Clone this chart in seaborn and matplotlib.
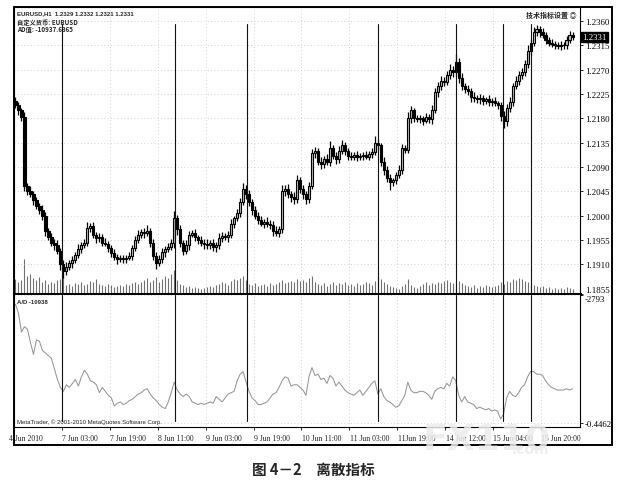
import matplotlib
matplotlib.use('Agg')
import matplotlib.pyplot as plt
import matplotlib.transforms as mtransforms
import numpy as np
import pandas as pd
import seaborn as sns
from matplotlib import patches

# EURUSD H1 closes, pips above 1.1800
close_pips = [
    405, 395, 382, 255, 246, 240, 228, 218, 210, 200,
    172, 160, 150, 145, 135, 110, 98, 105, 112, 118,
    128, 138, 145, 150, 178, 180, 165, 158, 160, 150,
    148, 140, 130, 124, 120, 121, 119, 122, 125, 140,
    155, 165, 170, 168, 172, 150, 125, 112, 120, 132,
    138, 142, 150, 195, 175, 150, 135, 145, 165, 168,
    160, 155, 150, 148, 145, 150, 142, 145, 158, 162,
    160, 165, 185, 195, 205, 225, 250, 240, 225, 210,
    200, 192, 185, 188, 185, 183, 172, 168, 175, 245,
    250, 240, 235, 230, 265, 250, 240, 230, 255, 315,
    320, 300, 295, 305, 300, 325, 310, 305, 320, 330,
    320, 310, 308, 312, 308, 310, 312, 309, 314, 318,
    335, 330, 300, 285, 270, 262, 265, 275, 285, 325,
    322, 380, 395, 380, 378, 380, 376, 382, 378, 395,
    428, 440, 450, 448, 460, 470, 465, 485, 455, 440,
    435, 430, 420, 418, 415, 418, 412, 415, 410, 412,
    408, 405, 385, 375, 400, 410, 440, 450, 460, 465,
    480, 505, 520, 540, 545, 540, 535, 525, 520, 518,
    515, 514, 516, 515, 525, 535, 531,
]
first_open = 412

# wick lengths above / below the body, pips
wick_hi = [
    8, 6, 5, 10, 6, 8, 5, 7, 6, 9,
    7, 5, 8, 6, 9, 5, 7, 10, 6, 8,
    5, 9, 6, 7, 11, 6, 8, 5, 7, 6,
    9, 5, 6, 8, 5, 7, 6, 5, 8, 6,
    7, 9, 6, 8, 10, 5, 6, 8, 7, 9,
    6, 8, 7, 13, 6, 8, 5, 9, 7, 6,
    8, 5, 7, 6, 9, 5, 7, 6, 10, 8,
    6, 7, 9, 5, 8, 7, 10, 6, 8, 5,
    7, 6, 8, 5, 9, 6, 7, 8, 6, 11,
    7, 9, 6, 8, 10, 6, 7, 5, 8, 9,
    7, 5, 8, 6, 9, 14, 6, 7, 8, 10,
    6, 5, 7, 6, 8, 5, 6, 7, 5, 8,
    12, 6, 5, 8, 6, 7, 5, 6, 8, 7,
    6, 12, 8, 5, 6, 7, 5, 8, 6, 9,
    8, 7, 9, 6, 8, 10, 7, 14, 6, 8,
    5, 7, 6, 8, 5, 7, 6, 5, 8, 6,
    7, 5, 6, 8, 7, 9, 6, 8, 7, 9,
    8, 10, 7, 9, 8, 6, 7, 5, 6, 7,
    5, 6, 7, 5, 8, 6, 5,
]
wick_lo = [
    6, 8, 7, 10, 8, 6, 9, 5, 7, 8,
    9, 6, 7, 8, 6, 10, 14, 7, 5, 8,
    6, 7, 8, 5, 6, 9, 7, 8, 6, 7,
    5, 8, 6, 7, 9, 5, 6, 7, 5, 8,
    6, 5, 7, 9, 6, 8, 7, 10, 6, 7,
    8, 5, 6, 9, 10, 8, 7, 6, 9, 5,
    7, 8, 6, 9, 7, 6, 8, 10, 6, 7,
    5, 8, 6, 7, 5, 8, 6, 9, 7, 8,
    6, 7, 5, 8, 6, 7, 9, 6, 8, 7,
    9, 8, 10, 8, 6, 9, 10, 8, 7, 6,
    8, 7, 9, 6, 7, 8, 6, 9, 7, 6,
    7, 8, 6, 5, 7, 6, 8, 5, 6, 7,
    6, 8, 9, 10, 8, 14, 7, 6, 5, 8,
    7, 6, 8, 7, 5, 6, 8, 5, 7, 9,
    6, 8, 7, 9, 6, 7, 8, 6, 9, 7,
    8, 6, 9, 7, 6, 8, 7, 6, 8, 7,
    6, 8, 9, 12, 10, 8, 7, 6, 8, 7,
    6, 7, 8, 6, 7, 9, 6, 8, 7, 6,
    7, 6, 8, 6, 7, 5, 6,
]

# tick volume (roughly the drawn height in pixels)
tick_volume = [
    15, 12, 14, 35, 18, 20, 16, 14, 17, 12,
    14, 10, 12, 11, 14, 15, 22, 9, 10, 8,
    11, 10, 12, 9, 10, 13, 12, 15, 10, 9,
    8, 10, 9, 7, 8, 9, 8, 10, 9, 11,
    12, 10, 12, 14, 16, 12, 14, 17, 12, 15,
    18, 16, 20, 24, 14, 10, 9, 7, 8, 6,
    7, 6, 5, 6, 7, 8, 7, 9, 10, 12,
    11, 9, 13, 15, 14, 16, 18, 14, 10, 9,
    11, 8, 9, 10, 8, 11, 9, 10, 12, 14,
    11, 12, 13, 12, 15, 13, 14, 12, 16, 18,
    12, 10, 9, 11, 8, 10, 12, 9, 11, 10,
    12, 9, 10, 8, 11, 9, 10, 12, 11, 9,
    13, 18, 15, 12, 10, 8, 7, 6, 5, 8,
    10, 15, 9, 7, 6, 8, 10, 12, 9, 11,
    10, 12, 11, 13, 14, 12, 11, 10, 13, 11,
    9, 8, 7, 9, 6, 8, 7, 9, 8, 7,
    8, 9, 12, 10, 13, 12, 15, 14, 16, 15,
    13, 12, 10, 9, 8, 7, 8, 6, 7, 5,
    6, 5, 6, 5, 7, 6, 5,
]

# accumulation/distribution line, 0-100 of the lower panel
ad_line = [
    93, 86, 72, 76, 74, 64, 55, 66, 65, 58,
    56, 54, 52, 44, 36, 30, 27, 32, 30, 33,
    36, 31, 38, 43, 40, 35, 34, 32, 26, 30,
    27, 24, 22, 16, 18, 19, 17, 18, 20, 21,
    23, 25, 26, 28, 29, 25, 22, 20, 17, 15,
    14, 19, 26, 34, 28, 25, 23, 25, 23, 19,
    18, 17, 18, 17, 18, 19, 18, 23, 21, 19,
    22, 25, 26, 27, 35, 40, 42, 34, 27, 22,
    20, 17, 17, 18, 19, 22, 25, 26, 30, 35,
    38, 37, 31, 32, 32, 30, 28, 24, 38, 45,
    39, 40, 36, 37, 33, 39, 37, 31, 34, 31,
    28, 26, 25, 24, 26, 28, 24, 27, 30, 33,
    35, 25, 29, 23, 20, 19, 17, 15, 16, 20,
    24, 34, 28, 26, 26, 27, 27, 26, 24, 21,
    27, 29, 30, 29, 33, 31, 38, 35, 24, 19,
    23, 19, 18, 17, 14, 15, 14, 13, 14, 12,
    13, 12, 6, 10, 22, 27, 24, 23, 26, 30,
    32, 38, 42, 42, 40, 40, 39, 35, 32, 30,
    29, 28, 28, 28, 29, 28, 29,
]

price_ticks = [1.1855, 1.1910, 1.1955, 1.2000, 1.2045, 1.2090,
               1.2135, 1.2180, 1.2225, 1.2270, 1.2315, 1.2360]
last_price = 1.2331
time_ticks = [-0.5, 15.5, 31.5, 47.5, 63.5, 79.5,
              95.5, 111.5, 127.5, 143.5, 159.5, 175.5]
time_labels = ['4 Jun 2010', '7 Jun 03:00', '7 Jun 19:00', '8 Jun 11:00',
               '9 Jun 03:00', '9 Jun 19:00', '10 Jun 11:00', '11 Jun 03:00',
               '11Jun 19:00', '14 Jun 12:00', '15 Jun 04:00', '15 Jun 20:00']
vline_bars = [15.5, 53.3, 77.3, 121.0, 147.1, 162.8, 172.2]

sns.set_theme(style='white')
plt.rcParams['font.family'] = ['DejaVu Sans']
CJK = ['Noto Sans CJK SC', 'DejaVu Sans']
SERIF = 'Liberation Serif'

df = pd.DataFrame({'close': 1.18 + np.array(close_pips) / 1e4})
df['open'] = df['close'].shift(1).fillna(1.18 + first_open / 1e4)
df['high'] = df[['open', 'close']].max(axis=1) + np.array(wick_hi) / 1e4
df['low'] = df[['open', 'close']].min(axis=1) - np.array(wick_lo) / 1e4
df['bar'] = np.arange(len(df))
df['vol'] = tick_volume
df['ad'] = ad_line
up = df['close'] >= df['open']

W, H = 626, 502
fig = plt.figure(figsize=(W / 100, H / 100), dpi=100)
fig.patch.set_facecolor('white')


def fx(px):
    return px / W


def fy(py):
    return 1 - py / H


ax = fig.add_axes([fx(14), fy(295), fx(566), 287 / H])
ax_vol = ax.twinx()
ax_ad = fig.add_axes([fx(14), fy(428), fx(566), 132 / H], sharex=ax)

# volume histogram behind the candles
ax_vol.set_zorder(ax.get_zorder() - 1)
ax.patch.set_visible(False)
ax_vol.vlines(df['bar'], 0, df['vol'], color='#707070', lw=0.8)
ax_vol.set_ylim(0, 287)
ax_vol.set_yticks([])
for s in ax_vol.spines.values():
    s.set_visible(False)

# candles (black & white MT4 scheme, bodies almost solid at this size)
ax.vlines(df['bar'], df['low'], df['high'], color='black', lw=0.9, zorder=3)
ax.bar(df['bar'][up], (df['close'] - df['open'])[up], bottom=df['open'][up],
       width=0.72, color='#bdbdbd', edgecolor='black', lw=0.8, zorder=4)
ax.bar(df['bar'][~up], (df['open'] - df['close'])[~up],
       bottom=df['close'][~up], width=0.72, color='black',
       edgecolor='black', lw=0.8, zorder=4)

ax.set_xlim(-0.5, 188.5)
ax.set_ylim(1.1855, 1.2386)
ax.yaxis.tick_right()
ax.set_yticks(price_ticks)
ax.set_yticklabels([f'{t:.4f}' for t in price_ticks], family=SERIF,
                   fontsize=6.3)
ax.get_yticklabels()[0].set_va('bottom')
ax.tick_params(axis='y', right=True, direction='out', length=2, width=0.6,
               pad=1.5, colors='black')
ax.tick_params(axis='x', bottom=False, labelbottom=False)
ax.set_xticks(time_ticks)
grid_kws = dict(color='#c4c4c4', ls=(0, (1, 3)), lw=0.6)
ax.grid(True, **grid_kws)

# current price box
blend = mtransforms.blended_transform_factory(ax.transAxes, ax.transData)
ax.text(1.004, last_price, f'{last_price:.4f}', transform=blend, ha='left',
        va='center', color='white', family=SERIF, fontsize=6.3,
        bbox=dict(fc='black', ec='black', pad=0.6), zorder=6, clip_on=False)

# A/D panel
sns.lineplot(x=df['bar'], y=df['ad'], ax=ax_ad, color='#959595', lw=0.75)
ax_ad.set_xlabel('')
ax_ad.set_ylabel('')
ax_ad.set_ylim(0, 100)
ax_ad.yaxis.tick_right()
ax_ad.set_yticks([3, 100])
ax_ad.set_yticklabels(['-0.4462', '-2793'], family=SERIF, fontsize=6.3)
ax_ad.get_yticklabels()[1].set_va('top')
ax_ad.tick_params(axis='y', right=True, direction='out', length=2,
                  width=0.6, pad=1.5, colors='black')
ax_ad.set_xticks(time_ticks)
ax_ad.set_xticklabels([])
ax_ad.tick_params(axis='x', bottom=True, direction='out', length=2,
                  width=0.6, colors='black')
ax_ad.grid(True, **grid_kws)

for b in vline_bars:
    ax.axvline(b, ymin=0, ymax=0.94, color='#111111', lw=0.8, zorder=5)
    ax_ad.axvline(b, ymin=0.045, ymax=1, color='#111111', lw=0.8, zorder=5)

for s in ax.spines.values():
    s.set_color('black')
    s.set_linewidth(0.8)
ax.spines['bottom'].set_linewidth(2.2)
for s in ax_ad.spines.values():
    s.set_color('black')
    s.set_linewidth(0.8)
ax_ad.spines['top'].set_visible(False)

# time labels, MT4 style: text starts at the tick
tblend = mtransforms.blended_transform_factory(ax_ad.transData,
                                               ax_ad.transAxes)
for k, (pos, lab) in enumerate(zip(time_ticks, time_labels)):
    if k == 0:
        ax_ad.text(pos + 4, -0.05, lab, transform=tblend, ha='center',
                   va='top', family=SERIF, fontsize=5.6, clip_on=False)
    else:
        ax_ad.text(pos + 0.1, -0.05, lab, transform=tblend, ha='left',
                   va='top', family=SERIF, fontsize=5.6, clip_on=False)

# outer window frame
fig.add_artist(patches.Rectangle((fx(14), fy(446)), fx(598), 438 / H,
                                 fill=False, ec='black', lw=1.4,
                                 transform=fig.transFigure))

# chart window texts
fig.text(fx(17), fy(14), 'EURUSD,H1  1.2329 1.2332 1.2321 1.2331',
         fontsize=4.3, family='Liberation Sans', weight='bold', va='center')
fig.text(fx(17), fy(22), '自定义货币: EURUSD', fontsize=4.5, family=CJK,
         weight='bold', va='center')
fig.text(fx(17), fy(30), 'AD值: -10937.6365', fontsize=4.5, family=CJK,
         weight='bold', va='center')
fig.text(fx(526), fy(15), '技术指标设置 ◎', fontsize=5, family=CJK,
         weight='bold', va='center')
fig.text(fx(17), fy(302), 'A/D -10938', fontsize=4.3,
         family='Liberation Sans', weight='bold', va='center')
fig.text(fx(17), fy(422),
         'MetaTrader, © 2001-2010 MetaQuotes Software Corp.', fontsize=4.3,
         family='Liberation Sans', va='center')

# site watermark, faint, over the axis labels
fig.text(fx(487), fy(440), 'FX110', fontsize=26, weight='bold',
         color='#ececec', alpha=0.85, ha='center', va='center', zorder=10)
fig.text(fx(530), fy(450), '.com', fontsize=10, weight='bold',
         color='#ececec', alpha=0.85, ha='center', va='center', zorder=10)

# figure caption
fig.text(0.5, fy(470), '图 4－2　离散指标', fontsize=10.5, family=CJK,
         weight='bold', ha='center', va='center')

fig.savefig('out.png', dpi=100, facecolor='white')
